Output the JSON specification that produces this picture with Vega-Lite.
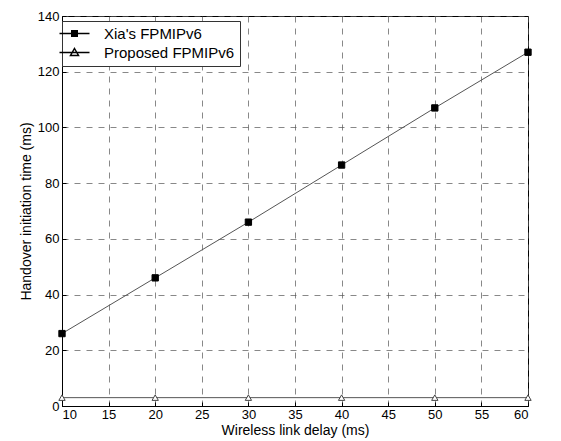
{
  "$schema": "https://vega.github.io/schema/vega-lite/v6.json",
  "width": 466,
  "height": 390,
  "autosize": {"type": "none"},
  "padding": {"left": 62, "top": 16, "right": 33, "bottom": 35},
  "background": "white",
  "config": {
    "font": "Liberation Sans",
    "view": {"stroke": "black", "strokeWidth": 1},
    "axis": {
      "gridColor": "#555",
      "gridDash": [6, 6],
      "gridOpacity": 0.7,
      "domainColor": "black",
      "tickColor": "black",
      "labelColor": "black",
      "titleColor": "black",
      "labelFontSize": 13,
      "titleFontSize": 14,
      "titleFontWeight": "normal",
      "tickSize": -4
    }
  },
  "data": {
    "values": [
      {"delay": 10, "time": 26, "series": "Xia's FPMIPv6"},
      {"delay": 20, "time": 46, "series": "Xia's FPMIPv6"},
      {"delay": 30, "time": 66, "series": "Xia's FPMIPv6"},
      {"delay": 40, "time": 86.5, "series": "Xia's FPMIPv6"},
      {"delay": 50, "time": 107, "series": "Xia's FPMIPv6"},
      {"delay": 60, "time": 127, "series": "Xia's FPMIPv6"},
      {"delay": 10, "time": 3, "series": "Proposed FPMIPv6"},
      {"delay": 20, "time": 3, "series": "Proposed FPMIPv6"},
      {"delay": 30, "time": 3, "series": "Proposed FPMIPv6"},
      {"delay": 40, "time": 3, "series": "Proposed FPMIPv6"},
      {"delay": 50, "time": 3, "series": "Proposed FPMIPv6"},
      {"delay": 60, "time": 3, "series": "Proposed FPMIPv6"}
    ]
  },
  "resolve": {"scale": {"shape": "independent", "fill": "independent", "stroke": "independent"}, "legend": {"shape": "independent", "fill": "independent"}},
  "layer": [
    {
      "mark": {"type": "line", "strokeWidth": 1, "clip": false},
      "encoding": {
        "x": {"field": "delay", "type": "quantitative", "scale": {"domain": [10, 60], "nice": false},
              "axis": {"values": [10,15,20,25,30,35,40,45,50,55,60], "title": "Wireless link delay (ms)", "titlePadding": 2, "labelPadding": 6}},
        "y": {"field": "time", "type": "quantitative", "scale": {"domain": [0, 140], "nice": false},
              "axis": {"values": [0,20,40,60,80,100,120,140], "title": "Handover initiation time (ms)", "titlePadding": 4, "labelPadding": 7}},
        "detail": {"field": "series"},
        "color": {"value": "#555"}
      }
    },
    {
      "mark": {"type": "point", "size": 40, "opacity": 1, "clip": false, "strokeWidth": 1},
      "encoding": {
        "x": {"field": "delay", "type": "quantitative"},
        "y": {"field": "time", "type": "quantitative"},
        "shape": {"field": "series", "type": "nominal",
          "scale": {"domain": ["Xia's FPMIPv6", "Proposed FPMIPv6"], "range": ["square", "triangle-up"]}, "legend": null},
        "fill": {"field": "series", "type": "nominal",
          "scale": {"domain": ["Xia's FPMIPv6", "Proposed FPMIPv6"], "range": ["black", "white"]}, "legend": null},
        "stroke": {"field": "series", "type": "nominal",
          "scale": {"domain": ["Xia's FPMIPv6", "Proposed FPMIPv6"], "range": ["black", "#444"]}, "legend": null}
      }
    },
    {
      "mark": {"type": "point", "size": 100, "opacity": 0, "clip": false, "strokeWidth": 1},
      "encoding": {
        "x": {"field": "delay", "type": "quantitative"},
        "y": {"field": "time", "type": "quantitative"},
        "shape": {"field": "series", "type": "nominal",
          "scale": {"domain": ["Xia's FPMIPv6", "Proposed FPMIPv6"], "range": ["M-3,0H3", "M-3,0H3M0,-0.8L0.8,0.6H-0.8Z"]},
          "legend": {"title": null, "orient": "none", "legendX": 0, "legendY": 5, "labelFontSize": 15, "symbolSize": 100,
                     "strokeColor": "#333", "padding": 5, "fillColor": "white", "symbolStrokeColor": "black",
                     "labelOffset": 22, "rowPadding": 3, "zindex": 1,
                     "encode": {"symbols": {"update": {"strokeOpacity": {"value": 1}, "opacity": {"value": 1}, "strokeWidth": {"value": 1}}}}}}
      }
    },
    {
      "mark": {"type": "point", "size": 0, "opacity": 1, "filled": true, "clip": false},
      "encoding": {
        "x": {"field": "delay", "type": "quantitative"},
        "y": {"field": "time", "type": "quantitative"},
        "shape": {"field": "series", "type": "nominal",
          "scale": {"domain": ["Xia's FPMIPv6", "Proposed FPMIPv6"], "range": ["M-0.7,-0.7H0.7V0.7H-0.7Z", "M0,-0.8L0.8,0.6H-0.8Z"]},
          "legend": {"title": null, "orient": "none", "legendX": 0, "legendY": 5, "labelFontSize": 15, "symbolSize": 100,
                     "padding": 5, "labelOffset": 22, "rowPadding": 3, "labelOpacity": 0, "zindex": 2}},
        "fill": {"field": "series", "type": "nominal",
          "scale": {"domain": ["Xia's FPMIPv6", "Proposed FPMIPv6"], "range": ["black", "transparent"]},
          "legend": {"title": null, "orient": "none", "legendX": 0, "legendY": 5, "labelFontSize": 15, "symbolSize": 100,
                     "padding": 5, "labelOffset": 22, "rowPadding": 3, "labelOpacity": 0, "zindex": 2}}
      }
    }
  ]
}
